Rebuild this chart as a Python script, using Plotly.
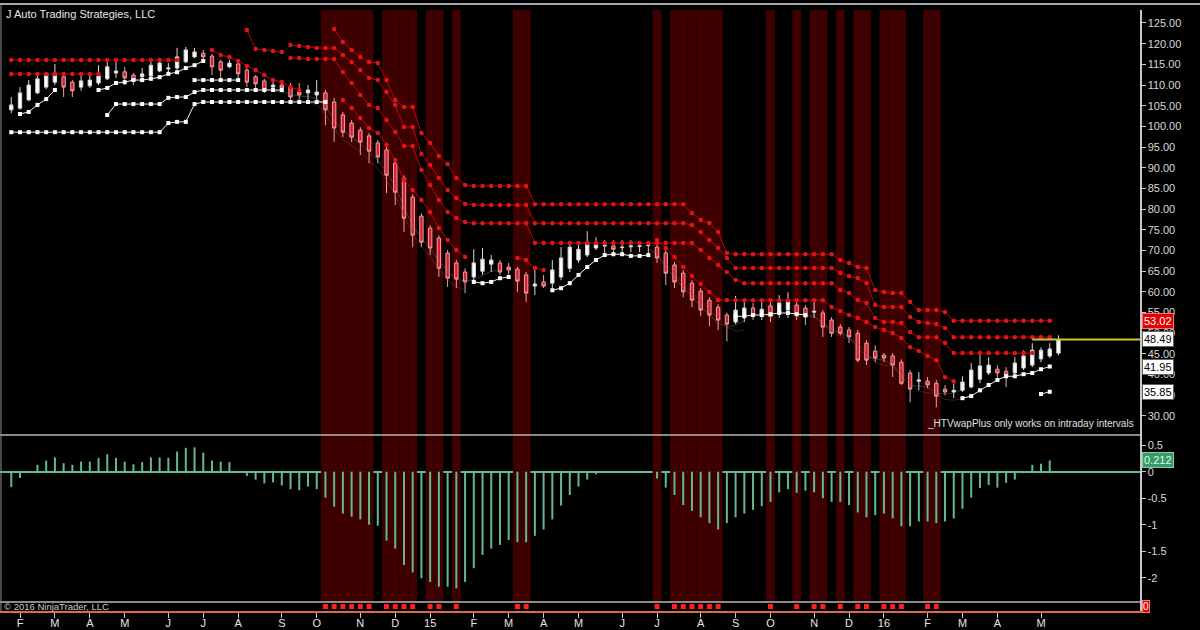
import pandas as pd
import plotly.graph_objects as go
from plotly.subplots import make_subplots

N = 121
dates = pd.date_range("2014-01-27", periods=N, freq="7D")

opens = [104.0,104.4,106.4,108.1,109.5,110.7,112.0,110.7,109.5,109.8,
         110.5,111.5,112.9,113.2,112.4,112.0,112.2,113.4,113.9,114.1,
         115.6,116.8,117.7,117.0,115.6,114.4,115.1,113.6,112.0,111.0,
         109.5,110.0,109.5,108.3,108.1,107.6,108.1,105.9,102.8,100.8,
         99.1,97.7,96.0,94.3,91.1,87.5,82.9,78.3,75.4,73.0,
         69.4,67.0,64.8,63.6,65.0,66.7,67.0,66.0,65.5,64.1,
         61.4,62.4,62.1,63.6,65.7,67.7,68.9,70.6,71.1,71.1,
         70.7,70.9,71.0,71.2,70.8,69.4,66.5,64.5,62.1,60.2,
         58.0,56.3,54.4,52.7,54.4,56.1,54.6,56.6,55.1,55.6,
         56.8,56.1,55.1,54.9,53.2,51.5,50.8,50.0,47.6,45.7,
         44.7,44.5,43.0,40.4,38.4,38.4,37.9,36.5,35.8,36.2,
         37.0,38.9,40.4,41.3,40.8,40.4,41.6,42.3,43.8,44.5,45.2]
highs = [107.1,109.5,111.2,112.4,113.1,115.1,112.4,111.2,112.2,112.7,
         114.8,115.6,115.6,114.4,112.9,114.1,116.1,116.1,115.3,119.0,
         119.2,119.0,118.5,117.5,116.1,116.1,115.6,114.1,112.4,111.5,
         111.2,111.2,110.5,110.5,110.0,111.2,108.8,106.9,103.5,101.5,
         99.8,98.4,96.7,95.0,91.9,88.2,83.6,79.0,76.1,73.7,
         70.1,67.7,65.7,70.3,70.6,68.9,67.7,67.0,66.0,64.8,
         65.7,64.1,67.7,70.8,71.3,72.0,74.7,73.2,72.5,72.5,
         72.5,72.5,72.0,72.3,71.8,70.1,67.2,65.3,62.8,60.9,
         58.7,57.0,55.0,59.0,58.0,57.3,58.0,58.5,59.2,59.9,
         58.0,56.8,57.5,55.6,53.9,52.2,51.5,50.8,48.3,47.1,
         45.2,45.2,43.7,41.1,40.6,39.4,38.7,37.5,37.9,39.6,
         42.8,44.7,44.2,42.3,41.8,44.2,45.9,47.6,46.6,47.6,49.5]
lows = [103.2,104.0,106.1,107.8,109.0,110.0,107.1,107.1,108.6,109.3,
        110.0,111.2,111.7,110.0,110.0,110.7,112.0,113.1,112.9,113.6,
        115.3,116.5,115.6,112.4,111.7,114.1,111.2,109.5,109.3,108.1,
        108.6,108.3,106.4,106.4,106.4,105.7,100.3,96.2,97.4,96.2,
        93.1,91.1,91.1,83.9,81.0,74.5,70.8,70.8,68.9,63.6,
        61.2,60.9,59.7,62.4,64.1,64.8,64.1,64.1,59.9,57.5,
        59.2,60.9,60.9,62.8,64.8,67.0,68.4,70.1,69.4,68.9,
        69.4,69.6,69.6,68.9,67.0,61.6,60.9,58.7,56.3,54.1,
        51.7,50.8,48.0,52.2,52.7,53.2,53.2,52.7,53.7,53.7,
        53.2,52.0,53.7,49.1,49.1,49.5,47.6,43.0,42.3,43.0,
        43.0,39.4,37.5,33.3,36.2,36.7,32.1,35.0,34.3,35.8,
        36.7,37.9,39.9,39.2,37.0,39.9,41.1,41.8,43.0,44.0,44.7]
closes = [105.2,108.1,110.0,111.5,112.7,112.9,109.5,108.6,111.0,111.2,
          112.2,114.4,113.4,111.7,111.0,112.7,114.8,115.3,114.1,116.8,
          118.5,118.0,116.8,114.4,113.6,115.3,112.7,110.7,110.3,108.8,
          110.0,109.3,107.1,107.6,108.8,108.3,104.0,99.6,98.6,97.4,
          96.2,94.0,92.6,88.2,84.1,77.8,73.7,72.0,70.6,65.7,
          63.3,63.1,62.4,67.0,67.9,67.7,64.8,65.3,62.6,59.7,
          61.9,61.4,65.3,68.2,70.8,70.3,72.0,71.6,71.3,70.3,
          70.8,71.1,71.1,71.3,68.2,64.5,62.4,60.0,58.0,55.6,
          54.4,53.2,52.2,55.6,56.1,54.2,55.8,54.1,57.3,58.0,
          54.4,53.9,55.3,51.5,50.0,50.0,49.1,43.5,43.5,44.0,
          44.0,42.3,37.9,36.5,38.7,37.5,34.8,35.8,36.2,38.2,
          41.1,42.1,42.3,40.4,39.9,42.8,44.5,45.9,45.9,46.2,48.49]

hist = [-0.29,-0.12,-0.02,0.13,0.21,0.27,0.16,0.13,0.19,0.19,
        0.26,0.33,0.26,0.19,0.14,0.18,0.27,0.27,0.26,0.38,
        0.45,0.46,0.36,0.21,0.19,0.18,0.0,-0.08,-0.15,-0.22,
        -0.2,-0.26,-0.33,-0.35,-0.28,-0.33,-0.49,-0.66,-0.79,-0.85,
        -0.9,-1.0,-1.02,-1.3,-1.45,-1.76,-1.9,-2.01,-2.08,-2.17,
        -2.17,-2.2,-2.08,-1.82,-1.57,-1.45,-1.38,-1.29,-1.33,-1.33,
        -1.21,-1.09,-0.9,-0.64,-0.44,-0.28,-0.15,-0.05,-0.02,0.0,
        0.0,0.0,0.0,0.0,-0.13,-0.3,-0.44,-0.63,-0.74,-0.86,
        -0.97,-1.09,-0.97,-0.86,-0.79,-0.72,-0.65,-0.57,-0.39,-0.33,
        -0.4,-0.36,-0.39,-0.5,-0.57,-0.57,-0.63,-0.77,-0.86,-0.82,
        -0.79,-0.88,-1.03,-1.03,-0.94,-0.94,-0.97,-0.94,-0.88,-0.7,
        -0.49,-0.31,-0.25,-0.3,-0.21,-0.15,-0.03,0.13,0.15,0.212,None]

signal_bars = [36,37,38,39,40,41,43,44,45,46,48,49,51,58,59,74,76,77,78,79,80,81,
               87,90,92,93,95,97,98,100,101,102,105,106]

# stepped stop lines: (first bar, values)
red_lines = {
    "ra1": (0, [116.05]*20),
    "ra2": (0, [112.67]*11),
    "rb": (23, [118.47,117.26,116.78,115.81,114.60,113.63,112.42,111.21,110.73,109.52,108.80]),
    "rc": (27, [123.3,118.7,118.5,118.2,118.0]),
    "f1": (37, [123.55,120.41,118.47,116.78,115.57,115.33,111.21,106.38,104.69,104.69,
                98.40,95.98,92.84,90.90,87.52,85.82] + [85.6]*7 + [81.2]*18 +
               [79.05,77.36,76.63,74.46,69.38] + [69.1]*12 +
               [67.68,66.96,65.99,65.75,60.43,59.95,59.70,59.70,57.53,55.59,55.59,55.59,55.11] + [53.02]*12),
    "f2": (32, [119.68,119.44,119.20,118.95,118.95,118.95,117.26,115.57,113.63,111.70,
                111.21,108.31,105.17,99.85,99.85,93.32,90.66,87.52,84.61,82.68,81.23] + [81.0]*7 + [76.6]*18 +
               [76.15,74.46,72.52,70.59,68.17] + [65.75]*12 +
               [64.54,63.82,63.33,62.12,56.80,56.32,56.32,56.32,53.90,52.69,52.45,52.21,51.24] + [49.06]*12),
    "f3": (32, [116.54,116.54,116.29,116.29,116.29,116.29,113.15,110.49,107.59,105.17,
                104.44,101.54,98.64,95.25,95.25,89.45,85.82,82.19,79.29,77.84,76.87] + [76.6]*7 + [71.8]*19 +
               [70.10,68.17,66.48,64.78,62.85] + [62.1]*11 +
               [60.43,59.70,58.01,57.29,53.66,52.69,52.69,52.45,50.27,49.06,49.06,49.06,47.61] + [45.2]*10),
    "f4a": (38, [106.38,104.44,102.03,99.61,98.40,95.50,91.87,87.03,84.61,82.19,79.29,75.42,72.52,70.10,68.41]),
    "f4b": (58, [68.17,67.68,65.75,65.27]),
    "f4c": (74, [72.52,70.59,68.41,65.99,63.82,61.88,59.95,58.01,58.01] + [58.0]*11 +
                [56.32,55.35,54.38,53.66,52.69,51.48,50.76,50.03,48.82,46.64,45.68,44.47,43.50,39.39,38.42]),
}
white_lines = {
    "wa1": (0, [98.6]*18 + [100.8,101.1,101.1,105.4] + [105.9]*15),
    "wa2": (11, [102.75] + [105.4]*6 + [106.9,107.1,107.1,108.3] + [108.8]*10),
    "wa3": (21, [111.2]*6),
    "wa4": (1, [103.0,103.5,105.2,106.6,108.8]),
    "wa5": (10, [108.8,109.3,110.5,110.7,111.2,111.2,111.5,111.9,112.7,113.1,114.1,114.8,115.8]),
    "wb": (53, [62.4,62.1,62.4,63.3,63.6]),
    "wc": (62, [60.4,60.9,62.1,64.1,66.0,67.7,68.9,69.1,69.1,68.7,68.7,68.9]),
    "wd": (83, [54.1,54.1,54.4,54.4,54.6,54.9,54.9,54.6,54.4]),
    "we": (109, [34.3,34.8,36.2,37.5,38.7,39.6,39.6,40.1,40.4,41.3,41.95]),
    "wf": (118, [35.3,35.85]),
}
# faint envelope lines drawn close to the candles in the down legs
faint_gray = {
    "g1": (30, [108.5,108.3,107.8,107.3,107.2,106.8,105.0,101.5,99.0,97.5,95.8,93.8,91.8,89.0,85.5,
                80.5,76.0,73.0,70.5,67.5,65.0,63.2,62.5,63.0,64.0,65.0,65.2]),
    "g2": (73, [70.5,69.0,66.0,63.5,61.0,59.0,56.5,54.5,52.5,51.5,52.0,53.0]),
    "g3": (90, [54.8,54.5,54.0,52.5,51.0,50.0,49.3,46.5,44.5,43.8,43.5,42.3,39.5,37.5,37.2,37.0,35.5,35.3,35.6,36.4]),
}
faint_red = {
    "d1": (32, [106.5,106.2,105.8,105.2,103.0,99.5,96.8,95.5,93.8,91.8,89.8,87.0,83.5,78.5,74.0,71.0,
                68.5,65.5,63.0,61.2,60.5]),
    "d2": (75, [67.0,64.5,62.0,59.8,57.8,55.5,53.5,51.5,50.5,50.8]),
    "d3": (93, [52.0,50.5,49.2,48.5,47.8,45.0,43.0,42.3,42.0,40.8,38.0,36.0,35.6,35.4,34.0,33.8,34.2,35.0]),
}

tick_bars = [1,5,9,13,18,22,26,31,35,40,44,48,53,57,61,65,70,74,79,83,87,92,96,100,105,109,113,118]
tick_text = ["F","M","A","M","J","J","A","S","O","N","D","15","F","M","A","M","J","J","A","S","O","N","D","16","F","M","A","M"]

price_ticks = [30,35,40,45,50,55,60,65,70,75,80,85,90,95,100,105,110,115,120,125]
hist_ticks = [0.5,0,-0.5,-1,-1.5,-2]
hist_tick_text = ["0.5","0","-0.5","-1","-1.5","-2"]

assert len(opens) == N and len(highs) == N and len(lows) == N and len(closes) == N and len(hist) == N


def seg(start, vals):
    return [None]*start + list(vals) + [None]*(N - start - len(vals))


DAY = 86400000
P_LO, P_HI = 25.4, 128.14
H_LO, H_HI = -2.458, 0.692
x_lo = dates[0] - pd.Timedelta(days=9.04)
x_hi = dates[0] + pd.Timedelta(days=905.4)

FONT = "Liberation Sans, Arial, sans-serif"
AX = "#c8c8c8"
BAND = "#3e0000"
GREEN = "#66b890"

fig = make_subplots(rows=3, cols=1, shared_xaxes=True, vertical_spacing=0)

sig_x = [dates[i] for i in signal_bars]
fig.add_trace(go.Bar(x=sig_x, y=[P_HI - P_LO]*len(sig_x), base=P_LO, width=7*DAY,
                     marker=dict(color=BAND, line=dict(width=0)), hoverinfo="skip"), row=1, col=1)
fig.add_trace(go.Bar(x=sig_x, y=[H_HI - H_LO]*len(sig_x), base=H_LO, width=7*DAY,
                     marker=dict(color=BAND, line=dict(width=0)), hoverinfo="skip"), row=2, col=1)

for name, (st, vals) in faint_gray.items():
    fig.add_trace(go.Scatter(x=dates, y=seg(st, vals), mode="lines",
                             line=dict(color="rgba(150,150,150,0.35)", width=1),
                             connectgaps=False, hoverinfo="skip"), row=1, col=1)
for name, (st, vals) in faint_red.items():
    fig.add_trace(go.Scatter(x=dates, y=seg(st, vals), mode="lines",
                             line=dict(color="rgba(150,60,60,0.45)", width=1),
                             connectgaps=False, hoverinfo="skip"), row=1, col=1)

for name, (st, vals) in red_lines.items():
    fig.add_trace(go.Scatter(x=dates, y=seg(st, vals), mode="lines+markers",
                             line=dict(color="#c80000", width=1),
                             marker=dict(color="#e01515", size=4.5, symbol="circle"),
                             connectgaps=False, hoverinfo="skip"), row=1, col=1)
for name, (st, vals) in white_lines.items():
    fig.add_trace(go.Scatter(x=dates, y=seg(st, vals), mode="lines+markers",
                             line=dict(color="#f0f0f0", width=1),
                             marker=dict(color="#ffffff", size=4, symbol="square"),
                             connectgaps=False, hoverinfo="skip"), row=1, col=1)

fig.add_trace(go.Candlestick(x=dates, open=opens, high=highs, low=lows, close=closes,
                             increasing=dict(fillcolor="#ffffff", line=dict(color="#d8d8d8", width=1)),
                             decreasing=dict(fillcolor="#d42030", line=dict(color="#f0a0a0", width=1)),
                             whiskerwidth=0, hoverinfo="skip"), row=1, col=1)

fig.add_trace(go.Scatter(x=[dates[117], x_hi], y=[closes[-1], closes[-1]], mode="lines",
                         line=dict(color="#c8c83c", width=2), hoverinfo="skip"), row=1, col=1)

fig.add_trace(go.Bar(x=dates, y=hist, width=1.6*DAY, marker=dict(color=GREEN, line=dict(width=0)),
                     hoverinfo="skip"), row=2, col=1)

fig.add_trace(go.Scatter(x=sig_x, y=[0]*len(sig_x), mode="markers",
                         marker=dict(color="#ff2020", size=5, symbol="square"), hoverinfo="skip"), row=3, col=1)

W, H = 1200, 630
XR = 1140 / W


def py(px):
    return (H - px) / H


fig.update_layout(
    width=W, height=H, margin=dict(l=0, r=0, t=0, b=0, pad=0, autoexpand=False),
    paper_bgcolor="#000000", plot_bgcolor="#000000",
    showlegend=False, barmode="overlay", hovermode=False, boxgap=0.45,
    font=dict(family=FONT, color="#d8d8d8", size=11),
)
common_x = dict(range=[x_lo, x_hi], showgrid=False, zeroline=False, domain=[0, XR], automargin=False)
fig.update_layout(
    xaxis=dict(**common_x, showticklabels=False, ticks="", showline=False, rangeslider=dict(visible=False)),
    xaxis2=dict(**common_x, showticklabels=False, ticks="", showline=False),
    xaxis3=dict(**common_x, showticklabels=True, tickmode="array",
                tickvals=[dates[i] for i in tick_bars], ticktext=tick_text,
                ticks="outside", ticklen=5, tickwidth=1, tickcolor=AX, ticklabelstandoff=-4,
                showline=True, linecolor="#e06a48", linewidth=1.5,
                tickfont=dict(family=FONT, size=11, color="#e4e4e4")),
    yaxis=dict(domain=[py(435), py(10)], range=[P_LO, P_HI], side="right", automargin=False,
               tickmode="array", tickvals=price_ticks, tickformat=".2f",
               ticks="outside", ticklen=4, tickcolor=AX, showline=True, linecolor=AX, linewidth=1.5,
               showgrid=False, zeroline=False, tickfont=dict(family=FONT, size=11, color="#d8d8d8")),
    yaxis2=dict(domain=[py(602), py(435)], range=[H_LO, H_HI], side="right", automargin=False,
                tickmode="array", tickvals=hist_ticks, ticktext=hist_tick_text,
                ticks="outside", ticklen=4, tickcolor=AX, showline=True, linecolor=AX, linewidth=1.5,
                showgrid=False, zeroline=True, zerolinecolor=GREEN, zerolinewidth=2,
                tickfont=dict(family=FONT, size=11, color="#d8d8d8")),
    yaxis3=dict(domain=[py(611), py(602)], range=[-1, 1], side="right", showticklabels=False, automargin=False,
                ticks="", showline=True, linecolor=AX, linewidth=1.5, showgrid=False, zeroline=False),
)

shapes = [
    dict(type="line", xref="paper", yref="paper", x0=0, x1=1, y0=py(4), y1=py(4),
         line=dict(color="#e0e0e0", width=1.5)),
    dict(type="line", xref="paper", yref="paper", x0=0, x1=XR, y0=py(435), y1=py(435),
         line=dict(color="#b8b8b8", width=1.5)),
    dict(type="line", xref="paper", yref="paper", x0=0, x1=XR, y0=py(602), y1=py(602),
         line=dict(color="#b8b8b8", width=1.5)),
    dict(type="line", xref="paper", yref="paper", x0=0.0008, x1=0.0008, y0=py(611), y1=py(4),
         line=dict(color="#909090", width=1)),
]
fig.update_layout(shapes=shapes)

TAGX = 1142 / W
ann = [
    dict(text="J Auto Trading Strategies, LLC", xref="paper", yref="paper", x=4/W, y=py(14),
         xanchor="left", yanchor="middle", showarrow=False, font=dict(size=11, color="#e8e8e8")),
    dict(text="_HTVwapPlus only works on intraday intervals", xref="paper", yref="paper",
         x=1136/W, y=py(423), xanchor="right", yanchor="middle", showarrow=False,
         font=dict(size=10, color="#e0e0e0")),
    dict(text="\u00a9 2016 NinjaTrader, LLC", xref="paper", yref="paper", x=2/W, y=py(606),
         xanchor="left", yanchor="middle", showarrow=False, font=dict(size=9.5, color="#c8c8c8")),
    dict(text="53.02", xref="paper", yref="y", x=TAGX, y=red_lines["f1"][1][-1], xanchor="left",
         yanchor="middle", showarrow=False, bgcolor="#e00000", bordercolor="#ff7070", borderwidth=1,
         borderpad=1, font=dict(size=11, color="#ffffff")),
    dict(text="48.49", xref="paper", yref="y", x=TAGX, y=closes[-1], xanchor="left",
         yanchor="middle", showarrow=False, bgcolor="#ffffff", bordercolor="#606060", borderwidth=1,
         borderpad=1, font=dict(size=11, color="#000000")),
    dict(text="41.95", xref="paper", yref="y", x=TAGX, y=white_lines["we"][1][-1], xanchor="left",
         yanchor="middle", showarrow=False, bgcolor="#ffffff", bordercolor="#606060", borderwidth=1,
         borderpad=1, font=dict(size=11, color="#000000")),
    dict(text="35.85", xref="paper", yref="y", x=TAGX, y=white_lines["wf"][1][-1], xanchor="left",
         yanchor="middle", showarrow=False, bgcolor="#ffffff", bordercolor="#606060", borderwidth=1,
         borderpad=1, font=dict(size=11, color="#000000")),
    dict(text="0.212", xref="paper", yref="y2", x=TAGX, y=hist[119], xanchor="left",
         yanchor="middle", showarrow=False, bgcolor="#3a9a68", bordercolor="#80d0a0", borderwidth=1,
         borderpad=1, font=dict(size=11, color="#d8ffe8")),
    dict(text="0", xref="paper", yref="y3", x=TAGX, y=0, xanchor="left",
         yanchor="middle", showarrow=False, bgcolor="#e00000", bordercolor="#ff7070", borderwidth=1,
         borderpad=0, font=dict(size=10, color="#ffffff")),
]
fig.update_layout(annotations=ann)

fig.write_html("out.html", config={"displayModeBar": False, "staticPlot": True},
               post_script="document.body.style.margin='0px';document.body.style.padding='0px';"
                           "document.body.style.overflow='hidden';")
